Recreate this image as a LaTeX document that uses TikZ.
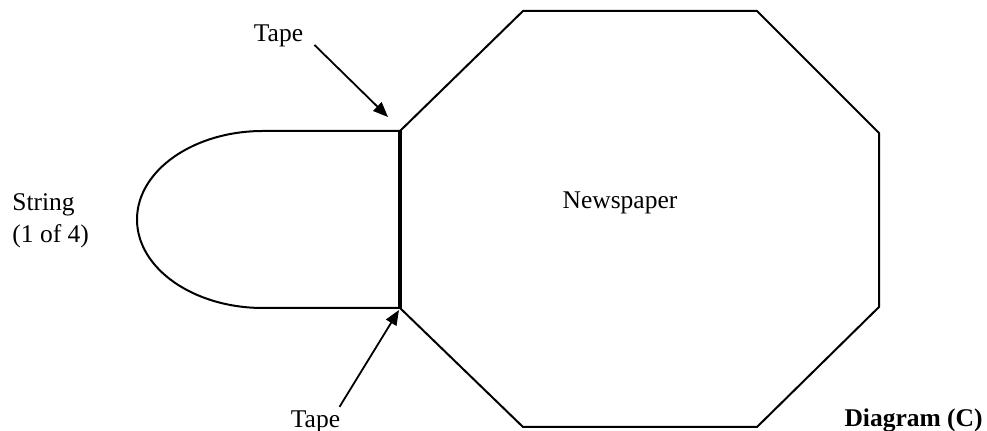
\documentclass[tikz,border=0pt]{standalone}
\usepackage{fontspec}
\setmainfont{Liberation Serif}
\usetikzlibrary{arrows.meta,positioning}

\begin{document}
\begin{tikzpicture}[
        x=0.5pt, y=-0.5pt,
        outline/.style={draw=black, line width=1pt, line join=miter},
        tapeline/.style={draw=black, line width=1.8pt},
        labeltext/.style={font=\fontsize{12.75}{16}\selectfont, inner sep=0pt, align=left},
        pointer/.style={-{Triangle[length=7.5pt, width=6pt]}, line width=0.9pt}
    ]
        \useasboundingbox (0,0) rectangle (987,431);

        % Newspaper
        \draw[outline] (400,131) -- (523,11) -- (757,11) -- (879,133)
            -- (879,307) -- (757,427) -- (523,427) -- (400,308) -- cycle;
        \node[labeltext, anchor=base] (news) at (620,209) {Newspaper};

        % String loop
        \draw[outline] (400,131) -- (263,131)
            arc[start angle=270, end angle=90, x radius=126, y radius=88.5] -- (400,308);
        \node[labeltext, anchor=north west] (string) at (12,193) {String\\(1 of 4)};

        % Tape
        \coordinate (tapetop) at (388,117);
        \coordinate (tapebot) at (399,310);
        \draw[tapeline] (400,130) -- (400,309);
        \node[labeltext, anchor=base] (toptape) at (278.5,42) {Tape};
        \node[labeltext, anchor=base] (bottape) at (315.5,428) {Tape};

        % Caption
        \node[labeltext, anchor=base east, font=\fontsize{12.75}{16}\selectfont\bfseries] (caption) at (983,427) {Diagram (C)};

        % Pointers
        \draw[pointer] ([xshift=5.5pt, yshift=-1.5pt]toptape.base east) -- (tapetop);
        \draw[pointer] ([xshift=-0.5pt, yshift=2pt]bottape.north east) -- (tapebot);

    \end{tikzpicture}
\end{document}
